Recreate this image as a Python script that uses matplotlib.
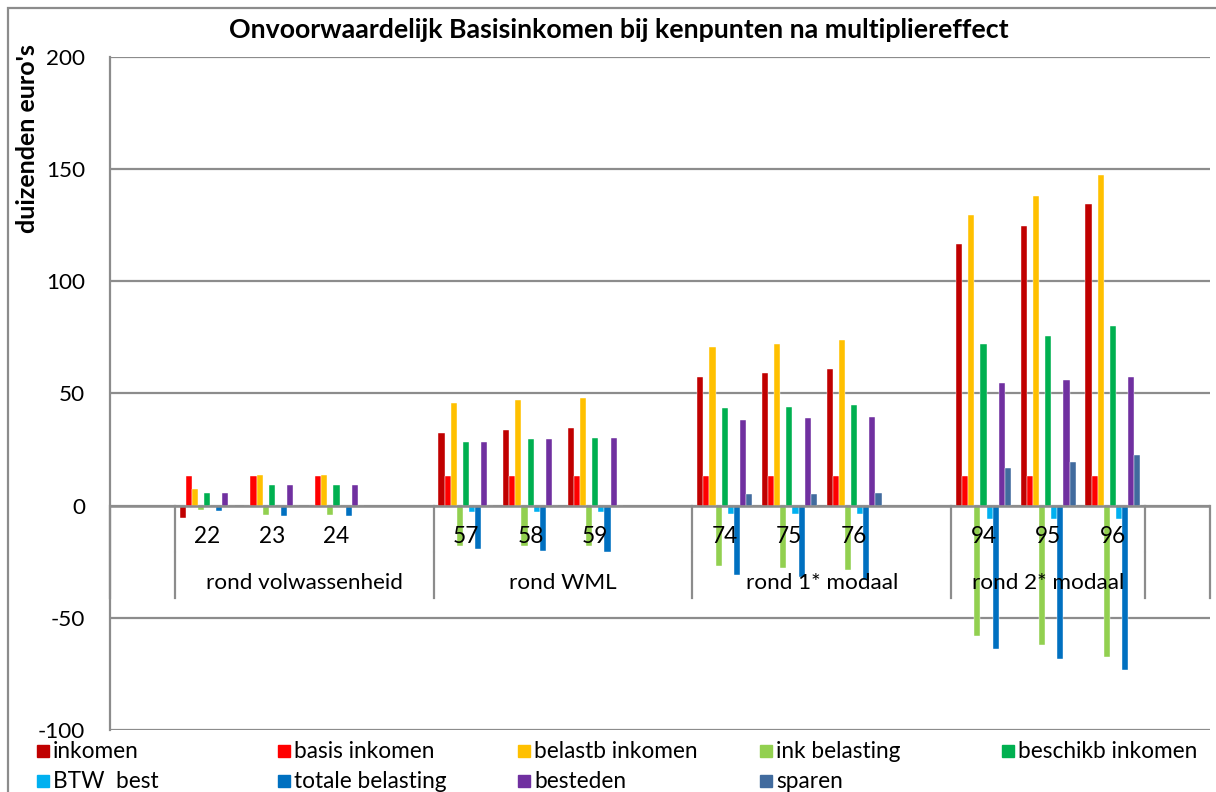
import numpy as np
import matplotlib
matplotlib.use("Agg")
import matplotlib.pyplot as plt
from matplotlib.patches import Rectangle

plt.rcParams['font.family'] = ['Lato', 'DejaVu Sans']

# ---------------- data ----------------
nan = np.nan
categories = ["", "22", "23", "24", "", "57", "58", "59", "", "74", "75", "76", "", "94", "95", "96", ""]
group_labels = ["", "rond volwassenheid", "rond WML", "rond 1* modaal", "rond 2* modaal", ""]
group_sizes = [1, 4, 4, 4, 3, 1]

series_names = ["inkomen", "basis inkomen", "belastb inkomen", "ink belasting", "beschikb inkomen",
                "BTW  best", "totale belasting", "besteden", "sparen"]
series_colors = ["#C00000", "#FF0000", "#FFC000", "#92D050", "#00B050",
                 "#00B0F0", "#0070C0", "#7030A0", "#416B9E"]

inkomen          = [nan, -5.3, 0, 0, nan, 32.6, 33.7, 34.7, nan, 57.3, 59.1, 60.9, nan, 116.7, 124.5, 134.3, nan]
basis_inkomen    = [nan, 13.2, 13.2, 13.2, nan, 13.2, 13.2, 13.2, nan, 13.2, 13.2, 13.2, nan, 13.2, 13.2, 13.2, nan]
belastb_inkomen  = [nan, 7.6, 13.6, 13.7, nan, 45.7, 46.9, 48.1, nan, 70.7, 72.1, 73.9, nan, 129.7, 137.9, 147.4, nan]
ink_belasting    = [nan, -2.0, -4.0, -4.0, nan, -17.8, -18.1, -18.2, nan, -27.0, -28.0, -28.6, nan, -58.0, -62.2, -67.4, nan]
beschikb_inkomen = [nan, 5.6, 9.2, 9.4, nan, 28.6, 29.5, 30.3, nan, 43.5, 44.0, 45.0, nan, 71.9, 75.5, 80.3, nan]
btw_best         = [nan, -0.4, -0.6, -0.6, nan, -2.9, -2.9, -2.9, nan, -3.8, -3.8, -3.8, nan, -5.8, -5.8, -5.8, nan]
totale_belasting = [nan, -2.4, -4.7, -4.8, nan, -19.5, -20.1, -20.7, nan, -31.0, -32.0, -33.0, nan, -63.7, -68.2, -73.2, nan]
besteden         = [nan, 5.6, 9.2, 9.4, nan, 28.6, 29.5, 30.3, nan, 38.3, 38.9, 39.5, nan, 54.8, 56.2, 57.3, nan]
sparen           = [nan, 0, 0, 0, nan, 0, 0, 0, nan, 5.0, 5.0, 5.8, nan, 16.7, 19.3, 22.7, nan]

series_values = [inkomen, basis_inkomen, belastb_inkomen, ink_belasting, beschikb_inkomen,
                 btw_best, totale_belasting, besteden, sparen]

title = "Onvoorwaardelijk Basisinkomen bij kenpunten na multipliereffect"
ylabel = "duizenden euro's"
yticks = [-100, -50, 0, 50, 100, 150, 200]

# ---------------- figure ----------------
W, H = 1216, 792
fig = plt.figure(figsize=(W / 100, H / 100), dpi=100)
ax = fig.add_axes([110 / W, 1 - 730 / H, 1100 / W, (730 - 57) / H])

n = len(categories)
x = np.arange(n)
nser = len(series_values)
bw = 0.0943
gap = 1 - nser * bw
grid_col = "#8C8C8C"

for i, (vals, col) in enumerate(zip(series_values, series_colors)):
    offs = -0.5 + gap / 2 + (i + 0.5) * bw
    ax.bar(x + offs, vals, width=bw, color=col, edgecolor="white", linewidth=0.3, zorder=3)

ax.set_xlim(-0.5, n - 0.5)
ax.set_ylim(-100, 200)
ax.set_yticks(yticks)
ax.set_yticklabels([str(t) for t in yticks], fontsize=16.2)
ax.tick_params(axis='y', length=0, pad=18)
ax.set_xticks([])
for t in yticks:
    ax.axhline(t, color=grid_col, lw=1.6, zorder=1)
for s in ["top", "right", "bottom"]:
    ax.spines[s].set_visible(False)
ax.spines["left"].set_color(grid_col)
ax.spines["left"].set_linewidth(1.6)

# axis line at zero
ax.axhline(0, color=grid_col, lw=1.8, zorder=4)

# level-1 labels
for xi, lab in zip(x, categories):
    if lab:
        ax.text(xi, -13.8, lab, ha="center", va="center", fontsize=16.3, zorder=5)

# group separators and level-2 labels
edges = np.concatenate([[0], np.cumsum(group_sizes)]) - 0.5
for e in edges:
    ax.plot([e, e], [0, -20.2], color=grid_col, lw=1.6, zorder=2, clip_on=False)
    ax.plot([e, e], [-20.9, -41], color=grid_col, lw=1.6, zorder=2, clip_on=False)
for gi, lab in enumerate(group_labels):
    if lab:
        cx = (edges[gi] + edges[gi + 1]) / 2
        ax.text(cx, -34.3, lab, ha="center", va="center", fontsize=16.2, zorder=5)

# title and y label
fig.text(619 / W, 1 - 30 / H, title, ha="center", va="center", fontsize=19.3, fontweight="bold")
fig.text(28 / W, 1 - 139 / H, ylabel, ha="center", va="center", rotation=90,
         fontsize=18, fontweight="bold")

# legend (manual)
leg_cols = [37, 278, 518, 760, 1002]
leg_rows = [751, 781]
for i, (name, col) in enumerate(zip(series_names, series_colors)):
    r, c = divmod(i, 5)
    px, py = leg_cols[c], leg_rows[r]
    fig.add_artist(Rectangle((px / W, 1 - (py + 6) / H), 12 / W, 12 / H,
                             transform=fig.transFigure, color=col))
    fig.text((px + 16) / W, 1 - py / H, name, ha="left", va="center", fontsize=16.3)

# outer chart border
fig.add_artist(Rectangle((8 / W, -0.01), 1.2, 1 - 8 / H + 0.01, transform=fig.transFigure,
                         fill=False, edgecolor=grid_col, lw=1.6))

fig.savefig("out.png", dpi=100)
